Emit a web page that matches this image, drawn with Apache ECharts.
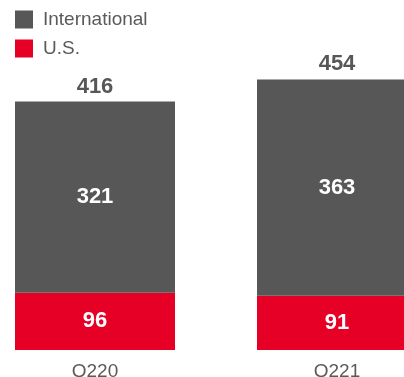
<!DOCTYPE html>
<html><head><meta charset="utf-8">
<script src="https://cdn.jsdelivr.net/npm/echarts@6/dist/echarts.min.js"></script>
<style>html,body{margin:0;padding:0;background:#fff}#c{width:404px;height:377px}</style>
</head><body><div id="c"></div>
<script>
const categories = ['Q220', 'Q221'];
const usValues = [96, 91];
const intlValues = [321, 363];
const totals = [416, 454];

const FONT = '"Liberation Sans", Arial, Helvetica, sans-serif';
const chart = echarts.init(document.getElementById('c'), null, {renderer: 'canvas'});
chart.setOption({
  animation: false,
  legend: {
    data: ['International', 'U.S.'],
    orient: 'vertical', left: 15, top: 10, padding: 0,
    itemWidth: 18, itemHeight: 18, itemGap: 10,
    icon: 'rect',
    textStyle: {fontFamily: FONT, fontSize: 19, color: '#5a5a5a', padding: [0, 0, 0, 5]}
  },
  grid: {left: -26, width: 484, top: 52, bottom: 27, containLabel: false, outerBoundsMode: 'none'},
  xAxis: {
    type: 'category', data: categories,
    axisLine: {show: false}, axisTick: {show: false},
    axisLabel: {fontFamily: FONT, fontSize: 19, color: '#5a5a5a', margin: 12}
  },
  yAxis: {type: 'value', min: 0, max: 500, show: false, splitLine: {show: false}},
  series: [
    {
      name: 'U.S.', type: 'bar', stack: 's', data: usValues, barWidth: 160,
      itemStyle: {color: '#e60026'},
      label: {show: true, position: 'inside', color: '#fff', fontFamily: FONT, fontWeight: 'bold', fontSize: 22}
    },
    {
      name: 'International', type: 'bar', stack: 's', data: intlValues, barWidth: 160,
      itemStyle: {color: '#575757'},
      label: {show: true, position: 'inside', color: '#fff', fontFamily: FONT, fontWeight: 'bold', fontSize: 22}
    },
    {
      name: 'Total', type: 'bar', stack: 's', data: totals.map(() => 0), barWidth: 160,
      itemStyle: {color: 'transparent'},
      label: {show: true, position: 'top', distance: 4, color: '#575757', fontFamily: FONT, fontWeight: 'bold', fontSize: 22,
        formatter: p => String(totals[p.dataIndex])}
    }
  ]
});
</script></body></html>
